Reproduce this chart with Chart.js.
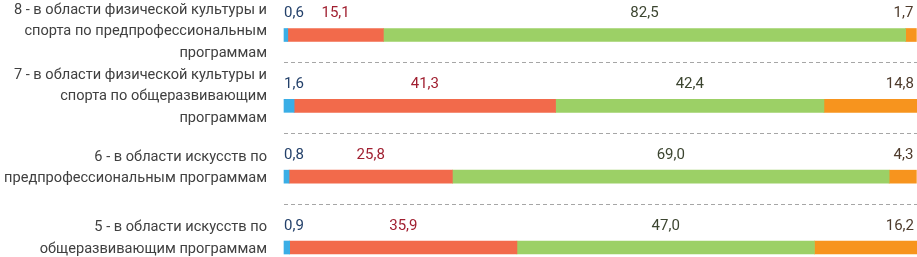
<!DOCTYPE html>
<html>
<head>
<meta charset="utf-8">
<script src="https://cdn.jsdelivr.net/npm/chart.js@4/dist/chart.umd.min.js"></script>
<style>
  html, body { margin: 0; padding: 0; background: #fff; }
  #wrap { width: 917px; height: 257px; }
</style>
</head>
<body>
<div id="wrap"><canvas id="chart" width="917" height="257"></canvas></div>
<script>
// categories, top to bottom
const categories = [
  ["8 - в области физической культуры и", "спорта по предпрофессиональным", "программам"],
  ["7 - в области физической культуры и", "спорта по общеразвивающим", "программам"],
  ["6 - в области искусств по", "предпрофессиональным программам"],
  ["5 - в области искусств по", "общеразвивающим программам"]
];

// shares, %
const blueValues = [0.6, 1.6, 0.8, 0.9];
const redValues = [15.1, 41.3, 25.8, 35.9];
const greenValues = [82.5, 42.4, 69.0, 47.0];
const orangeValues = [1.7, 14.8, 4.3, 16.2];

const FONT = "Roboto";

// keep the top category label inside the canvas, like the original does
const keepLabelsInside = {
  id: "keepLabelsInside",
  beforeDraw(chart) {
    const items = chart.scales.y.getLabelItems();
    items.forEach(item => {
      const tr = item.options && item.options.translation;
      if (!tr) return;
      const first = tr[1] + (item.textOffset || 0);
      if (first < 10) tr[1] += 10 - first;
    });
  }
};

// dashed separators between categories
const separators = {
  id: "separators",
  beforeDatasetsDraw(chart) {
    const { ctx, chartArea, scales } = chart;
    const y = scales.y;
    ctx.save();
    ctx.strokeStyle = "#a6a6a6";
    ctx.lineWidth = 1;
    ctx.setLineDash([4, 3]);
    for (let i = 0; i < categories.length - 1; i++) {
      const a = y.getPixelForValue(i);
      const b = y.getPixelForValue(i + 1);
      const py = Math.round(a + (b - a) * 0.38) + 0.5;
      ctx.beginPath();
      ctx.moveTo(chartArea.left, py);
      ctx.lineTo(chart.width, py);
      ctx.stroke();
    }
    ctx.restore();
  }
};

// value labels above each segment
const valueLabels = {
  id: "valueLabels",
  afterDatasetsDraw(chart) {
    const { ctx } = chart;
    ctx.save();
    ctx.font = "15px " + FONT;
    ctx.textBaseline = "middle";
    chart.data.datasets.forEach((ds, di) => {
      const meta = chart.getDatasetMeta(di);
      meta.data.forEach((bar, i) => {
        const text = ds.data[i].toFixed(1).replace(".", ",");
        const left = Math.min(bar.base, bar.x);
        const right = Math.max(bar.base, bar.x);
        let x;
        if (ds.labelAlign === "left") {
          ctx.textAlign = "left";
          x = left;
        } else if (ds.labelAlign === "right") {
          ctx.textAlign = "right";
          x = Math.min(right, chart.width) - 3;
        } else {
          ctx.textAlign = "center";
          x = (left + right) / 2;
        }
        ctx.fillStyle = ds.labelColor;
        ctx.fillText(text, x, bar.y - 21.5);
      });
    });
    ctx.restore();
  }
};

new Chart(document.getElementById("chart"), {
  type: "bar",
  data: {
    labels: categories,
    datasets: [
      { data: blueValues, backgroundColor: "#3aaee6", labelColor: "#23406a", labelAlign: "left" },
      { data: redValues, backgroundColor: "#f26a4b", labelColor: "#a01f30", labelAlign: "center" },
      { data: greenValues, backgroundColor: "#9cd066", labelColor: "#3c4530", labelAlign: "center" },
      { data: orangeValues, backgroundColor: "#f7941e", labelColor: "#4e3b2c", labelAlign: "right" }
    ]
  },
  options: {
    indexAxis: "y",
    responsive: false,
    animation: false,
    layout: { padding: { top: 35, bottom: 9.5, left: 0, right: 0 } },
    datasets: {
      bar: { barThickness: 13, clip: false, borderWidth: 0 }
    },
    scales: {
      x: {
        stacked: true,
        display: false,
        min: 0,
        max: 100
      },
      y: {
        stacked: true,
        offset: false,
        grid: { display: false },
        border: { display: false },
        afterFit(scale) {
          scale.width = 284;
          scale.paddingTop = 0;
          scale.paddingBottom = 0;
        },
        ticks: {
          autoSkip: false,
          color: "#404040",
          padding: 9,
          labelOffset: -9,
          font: { family: FONT, size: 14.6, lineHeight: 1.47 }
        }
      }
    },
    plugins: {
      legend: { display: false },
      tooltip: { enabled: false }
    }
  },
  plugins: [keepLabelsInside, separators, valueLabels]
});
</script>
</body>
</html>
